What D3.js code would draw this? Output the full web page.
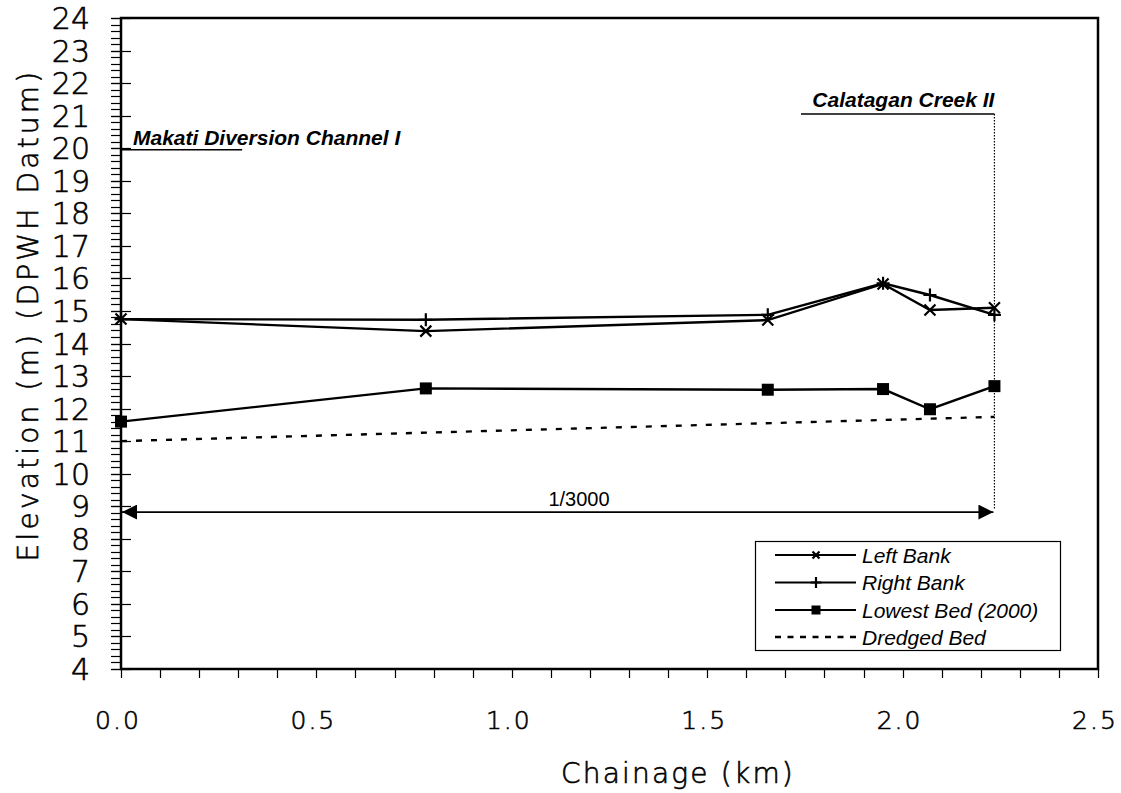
<!DOCTYPE html>
<html><head><meta charset="utf-8">
<script src="https://cdn.jsdelivr.net/npm/d3@7"></script>
<style>body{margin:0;background:#fff}</style>
</head><body>
<svg id="c" width="1121" height="793"></svg>
<script>
const chainage = [0, 0.78, 1.655, 1.95, 2.07, 2.235];
const leftBank = [14.75, 14.38, 14.72, 15.83, 15.03, 15.1];
const rightBank = [14.75, 14.73, 14.88, 15.85, 15.49, 14.88];
const lowestBed = [11.6, 12.62, 12.58, 12.6, 11.98, 12.69];
const dredgedX = [0, 2.235];
const dredgedBed = [11.0, 11.745];
const xTicks = [0, 0.5, 1.0, 1.5, 2.0, 2.5];
const yTicks = d3.range(4, 25, 1);
const seriesNames = ["Left Bank", "Right Bank", "Lowest Bed (2000)", "Dredged Bed"];
const slopeLabel = "1/3000";
const arrowLevel = 8.82;
const sections = [
  {name: "Makati Diversion Channel I", x0: 0, x1: 0.31, y: 19.95},
  {name: "Calatagan Creek II", x0: 1.74, x1: 2.235, y: 21.05}
];

const svg = d3.select("#c");
const L = 121, R = 1098, T = 18, B = 669;
const x = d3.scaleLinear().domain([0, 2.5]).range([L, R]);
const y = d3.scaleLinear().domain([4, 24]).range([B, T]);
const tickFont = "'DejaVu Sans', Verdana, sans-serif";
const arial = "'Liberation Sans', Arial, sans-serif";
const thin = 200;
function thinText(sel){ return sel.attr("font-family", tickFont).attr("font-weight", thin).attr("fill","#000").attr("stroke","#000").attr("stroke-width",0.6); }

const defs = svg.append("defs");
defs.append("marker").attr("id","arr").attr("viewBox","0 0 15 15").attr("refX",15).attr("refY",7.5)
  .attr("markerWidth",15).attr("markerHeight",15).attr("markerUnits","userSpaceOnUse").attr("orient","auto-start-reverse")
  .append("path").attr("d","M0,0L15,7.5L0,15Z").attr("fill","#000");

const yMinor = d3.range(4, 24.001, 0.2);
svg.append("g").selectAll("line").data(yMinor).join("line")
  .attr("x1", L-10).attr("x2", L).attr("y1", d=>Math.round(y(d))+0.5).attr("y2", d=>Math.round(y(d))+0.5)
  .attr("stroke","#000").attr("stroke-width",1.2);
svg.append("g").selectAll("line").data(yTicks).join("line")
  .attr("x1", L-10).attr("x2", L+10).attr("y1", d=>Math.round(y(d))+0.5).attr("y2", d=>Math.round(y(d))+0.5)
  .attr("stroke","#000").attr("stroke-width",1.2);
thinText(svg.append("g").selectAll("text").data(yTicks).join("text")
  .attr("x", 90).attr("y", d=>y(d)+11).attr("text-anchor","end").attr("font-size", 30).text(d=>d));

const xMinor = d3.range(0, 2.5001, 0.1);
svg.append("g").selectAll("line").data(xMinor).join("line")
  .attr("x1", d=>Math.round(x(d))+0.5).attr("x2", d=>Math.round(x(d))+0.5).attr("y1", B).attr("y2", B+9)
  .attr("stroke","#000").attr("stroke-width",1.2);
thinText(svg.append("g").selectAll("text").data(xTicks).join("text")
  .attr("x", d=>x(d)-3).attr("y", 729).attr("text-anchor","middle")
  .attr("font-size", 25).attr("letter-spacing", 2).text(d=>d.toFixed(1)));

thinText(svg.append("text").attr("x", 678).attr("y", 783).attr("text-anchor","middle")
  .attr("font-size", 28).attr("letter-spacing", 2.2).text("Chainage (km)"));
thinText(svg.append("text").attr("transform", `translate(38,315) rotate(-90)`).attr("text-anchor","middle")
  .attr("font-size", 28).attr("letter-spacing", 3.2).text("Elevation (m) (DPWH Datum)"));

svg.append("rect").attr("x", L).attr("y", T).attr("width", R-L).attr("height", B-T)
  .attr("fill","none").attr("stroke","#000").attr("stroke-width",2.5);

sections.forEach(s => {
  svg.append("line").attr("x1", x(s.x0)).attr("x2", x(s.x1)).attr("y1", y(s.y)).attr("y2", y(s.y))
    .attr("stroke","#000").attr("stroke-width",1.5);
});
svg.append("text").attr("x", x(sections[0].x0)+12).attr("y", y(sections[0].y)-5)
  .attr("font-family",arial).attr("font-size",21).attr("font-weight","bold").attr("font-style","italic")
  .text(sections[0].name);
svg.append("text").attr("x", x(sections[1].x1)).attr("y", y(sections[1].y)-7).attr("text-anchor","end")
  .attr("font-family",arial).attr("font-size",21).attr("font-weight","bold").attr("font-style","italic")
  .text(sections[1].name);
svg.append("line").attr("x1", x(sections[1].x1)).attr("x2", x(sections[1].x1)).attr("y1", y(sections[1].y)).attr("y2", y(arrowLevel)-2)
  .attr("stroke","#000").attr("stroke-width",1.2).attr("stroke-dasharray","1.5,1.5");

svg.append("line").attr("x1", x(0)+1).attr("x2", x(sections[1].x1)-1).attr("y1", y(arrowLevel)).attr("y2", y(arrowLevel))
  .attr("stroke","#000").attr("stroke-width",1.6).attr("marker-start","url(#arr)").attr("marker-end","url(#arr)");
svg.append("text").attr("x", 579).attr("y", y(arrowLevel)-6).attr("text-anchor","middle")
  .attr("font-family",arial).attr("font-size",20).text(slopeLabel);

const line = d3.line().x(d=>x(d[0])).y(d=>y(d[1]));
const zip = (xs, ys) => xs.map((v,i)=>[v, ys[i]]);
svg.append("path").datum(zip(dredgedX, dredgedBed)).attr("d", line).attr("fill","none")
  .attr("stroke","#000").attr("stroke-width",2.4).attr("stroke-dasharray","6,9");
[leftBank, rightBank, lowestBed].forEach(s => {
  svg.append("path").datum(zip(chainage, s)).attr("d", line).attr("fill","none").attr("stroke","#000").attr("stroke-width",2.4);
});

function markX(g, cx, cy, r){ g.append("path").attr("d",`M${cx-r},${cy-r}L${cx+r},${cy+r}M${cx-r},${cy+r}L${cx+r},${cy-r}`).attr("stroke","#000").attr("stroke-width",2.2).attr("fill","none"); }
function markP(g, cx, cy, r){ g.append("path").attr("d",`M${cx-r},${cy}L${cx+r},${cy}M${cx},${cy-r}L${cx},${cy+r}`).attr("stroke","#000").attr("stroke-width",2.2).attr("fill","none"); }
function markS(g, cx, cy, r){ g.append("rect").attr("x",cx-r).attr("y",cy-r).attr("width",2*r).attr("height",2*r).attr("fill","#000"); }

const mg = svg.append("g");
chainage.forEach((c,i)=>{
  markX(mg, x(c), y(leftBank[i]), 5.5);
  markP(mg, x(c), y(rightBank[i]), 6.5);
  markS(mg, x(c), y(lowestBed[i]), 6);
});

const lg = svg.append("g").attr("transform","translate(755,541)");
lg.append("rect").attr("x",0.5).attr("y",0.5).attr("width",305).attr("height",109).attr("fill","#fff").attr("stroke","#000").attr("stroke-width",1.2);
const rows = [14, 41.5, 69, 96];
seriesNames.forEach((n,i)=>{
  const yy = rows[i];
  const ln = lg.append("line").attr("x1",20).attr("x2",101).attr("y1",yy).attr("y2",yy).attr("stroke","#000").attr("stroke-width",2);
  if (i===3) ln.attr("stroke-width",2.6).attr("stroke-dasharray","6,6.5");
  if (i===0) markX(lg, 61, yy, 3.5);
  if (i===1) markP(lg, 61, yy, 5.5);
  if (i===2) markS(lg, 61, yy, 4.5);
  lg.append("text").attr("x",107).attr("y",yy+7.5).attr("font-family",arial)
    .attr("font-size",21).attr("font-style","italic").text(n);
});
</script>
</body></html>
